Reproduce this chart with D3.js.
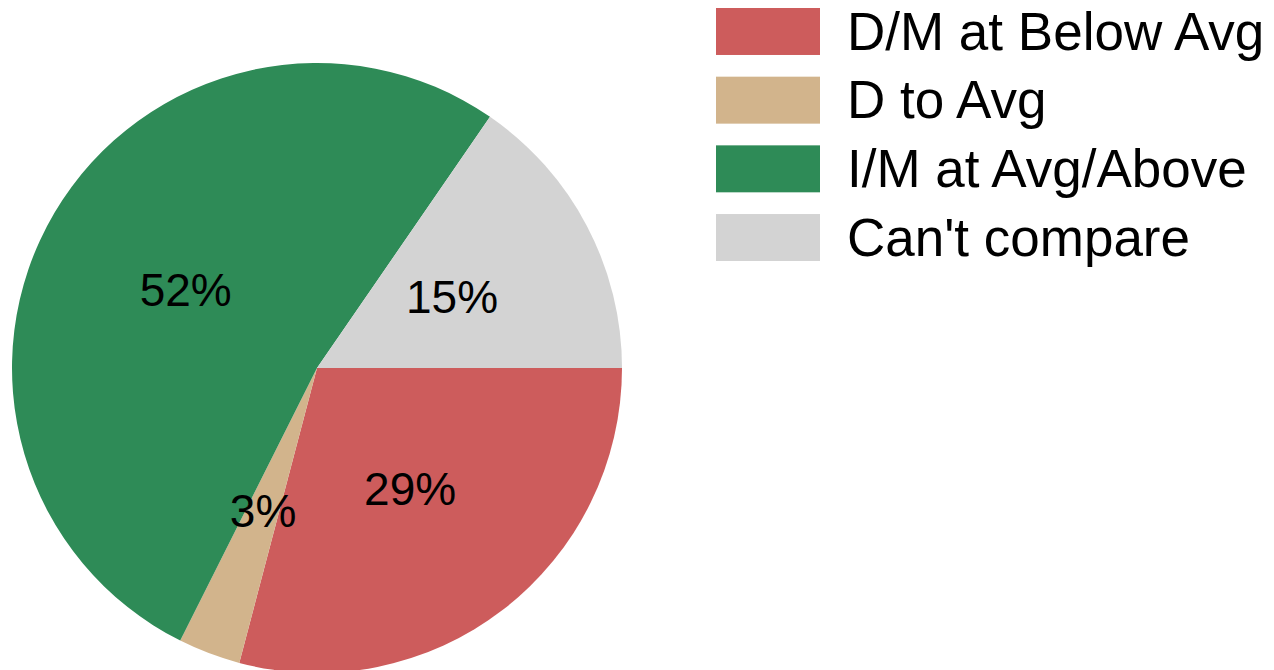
<!DOCTYPE html>
<html>
<head>
<meta charset="utf-8">
<script src="https://cdnjs.cloudflare.com/ajax/libs/d3/7.8.5/d3.min.js"></script>
<style>
  html, body { margin: 0; padding: 0; background: #fff; }
  svg { display: block; }
</style>
</head>
<body>
<div id="chart"></div>
<script>
var categories = ['D/M at Below Avg', 'D to Avg', 'I/M at Avg/Above', "Can't compare"];
var shares = [29.1, 3.3, 52.2, 15.4];
var colours = ['#cd5c5c', '#d2b48c', '#2e8b57', '#d3d3d3'];

var width = 1274, height = 670;
var cx = 317, cy = 368, radius = 305;

var svg = d3.select('#chart')
  .append('svg')
  .attr('width', width)
  .attr('height', height);

var data = categories.map(function(c, i) {
  return { name: c, value: shares[i], colour: colours[i] };
});

// first slice starts at 3 o'clock and runs clockwise
var pie = d3.pie()
  .sort(null)
  .value(function(d) { return d.value; })
  .startAngle(Math.PI / 2)
  .endAngle(Math.PI / 2 + 2 * Math.PI);

var arc = d3.arc().innerRadius(0).outerRadius(radius);

var g = svg.append('g').attr('transform', 'translate(' + cx + ',' + cy + ')');

var slices = pie(data);

g.selectAll('path')
  .data(slices)
  .enter()
  .append('path')
  .attr('d', arc)
  .attr('fill', function(d) { return d.data.colour; });

g.selectAll('text')
  .data(slices)
  .enter()
  .append('text')
  .attr('transform', function(d) {
    var c = arc.centroid(d);
    return 'translate(' + c[0] + ',' + (c[1] + 16) + ')';
  })
  .attr('text-anchor', 'middle')
  .style('font-family', '"Liberation Sans", Arial, sans-serif')
  .style('font-size', '46px')
  .attr('fill', '#000')
  .text(function(d) { return Math.round(d.data.value) + '%'; });

// legend
var legendY = d3.scaleBand()
  .domain(categories)
  .range([8, 261])
  .paddingInner(0.316)
  .paddingOuter(0);

var legend = svg.append('g');

var rows = legend.selectAll('g')
  .data(data)
  .enter()
  .append('g')
  .attr('transform', function(d) { return 'translate(716,' + legendY(d.name) + ')'; });

rows.append('rect')
  .attr('width', 104)
  .attr('height', legendY.bandwidth())
  .attr('fill', function(d) { return d.colour; });

rows.append('text')
  .attr('x', 131)
  .attr('y', legendY.bandwidth() / 2 + 18)
  .style('font-family', '"Liberation Sans", Arial, sans-serif')
  .style('font-size', '53px')
  .attr('fill', '#000')
  .text(function(d) { return d.name; });
</script>
</body>
</html>
